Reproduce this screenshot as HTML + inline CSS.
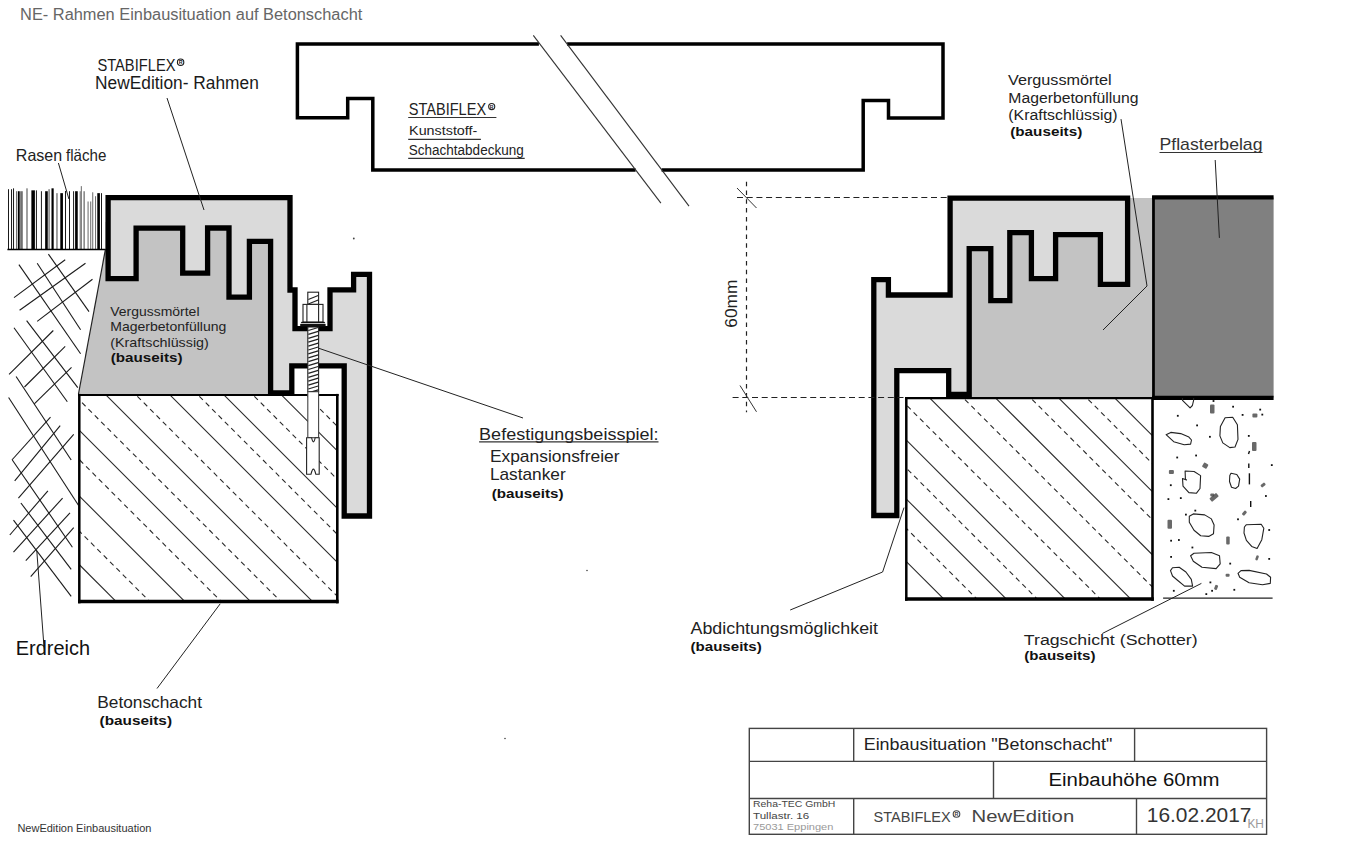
<!DOCTYPE html>
<html><head><meta charset="utf-8"><title>NE-Rahmen Einbausituation</title>
<style>html,body{margin:0;padding:0;background:#fff;} svg{display:block;}</style></head>
<body><svg width="1358" height="856" viewBox="0 0 1358 856">
<rect width="1358" height="856" fill="#fff"/>
<g stroke="#1a1a1a" stroke-width="1.1" fill="none">
<line x1="18.9" y1="264.6" x2="80.6" y2="353.7"/>
<line x1="37.2" y1="263.2" x2="80.6" y2="329.8"/>
<line x1="48.4" y1="254.1" x2="89" y2="311.6"/>
<line x1="14" y1="327.7" x2="67.3" y2="401.7"/>
<line x1="26.6" y1="320.7" x2="77.8" y2="387.7"/>
<line x1="16.1" y1="376.5" x2="71.2" y2="460"/>
<line x1="8.6" y1="397.5" x2="78.6" y2="505.5"/>
<line x1="12.3" y1="460" x2="72.4" y2="547.2"/>
<line x1="20.9" y1="503" x2="71.2" y2="569.3"/>
<line x1="13.5" y1="520.2" x2="71.2" y2="596.3"/>
<line x1="14" y1="297.6" x2="65.2" y2="259.7"/>
<line x1="19.6" y1="310.2" x2="85.5" y2="263.2"/>
<line x1="37.2" y1="321.4" x2="92.5" y2="279.3"/>
<line x1="9.1" y1="374.3" x2="53.3" y2="330.5"/>
<line x1="24.5" y1="387" x2="65.2" y2="346.3"/>
<line x1="34.3" y1="403.8" x2="71.5" y2="367.3"/>
<line x1="11.9" y1="460" x2="50.5" y2="417.1"/>
<line x1="14.7" y1="480.9" x2="60.2" y2="425.7"/>
<line x1="18.4" y1="498.1" x2="73.7" y2="434.3"/>
<line x1="9.8" y1="535" x2="47.9" y2="490.8"/>
<line x1="13.5" y1="552.1" x2="62.6" y2="498.1"/>
<line x1="25.8" y1="560.7" x2="70" y2="512.8"/>
<line x1="30.7" y1="576.7" x2="73.7" y2="527.6"/>
</g>
<g>
<rect x="8.05" y="189.20" width="0.90" height="60.50" fill="#000"/>
<rect x="11.12" y="189.20" width="0.90" height="60.50" fill="#000"/>
<rect x="13.13" y="188.33" width="0.90" height="61.37" fill="#000"/>
<rect x="15.99" y="191.22" width="1.31" height="58.48" fill="#707070"/>
<rect x="17.97" y="191.22" width="1.75" height="58.48" fill="#000"/>
<rect x="20.16" y="191.22" width="2.63" height="58.48" fill="#707070"/>
<rect x="26.34" y="188.33" width="1.31" height="61.37" fill="#707070"/>
<rect x="31.38" y="190.34" width="3.51" height="59.36" fill="#000"/>
<rect x="35.92" y="190.34" width="0.90" height="59.36" fill="#000"/>
<rect x="40.92" y="191.22" width="0.90" height="58.48" fill="#000"/>
<rect x="45.14" y="191.22" width="2.63" height="58.48" fill="#000"/>
<rect x="48.42" y="189.20" width="1.31" height="60.50" fill="#707070"/>
<rect x="51.49" y="188.33" width="2.19" height="61.37" fill="#000"/>
<rect x="56.31" y="193.15" width="1.31" height="56.55" fill="#707070"/>
<rect x="60.30" y="193.15" width="2.63" height="56.55" fill="#000"/>
<rect x="65.11" y="190.96" width="0.90" height="58.74" fill="#000"/>
<rect x="69.05" y="191.22" width="0.90" height="58.48" fill="#000"/>
<rect x="73.17" y="191.22" width="0.90" height="58.48" fill="#000"/>
<rect x="75.11" y="191.22" width="2.63" height="58.48" fill="#000"/>
<rect x="79.67" y="191.22" width="1.05" height="58.48" fill="#707070"/>
<rect x="80.81" y="186.13" width="1.05" height="63.57" fill="#707070"/>
<rect x="83.48" y="191.22" width="1.31" height="58.48" fill="#707070"/>
<rect x="87.55" y="201.47" width="1.05" height="48.23" fill="#707070"/>
<rect x="90.18" y="201.47" width="1.05" height="48.23" fill="#707070"/>
<rect x="92.20" y="192.27" width="1.05" height="57.43" fill="#707070"/>
<rect x="95.00" y="196.21" width="1.05" height="53.49" fill="#707070"/>
<rect x="97.28" y="193.15" width="2.63" height="56.55" fill="#000"/>
<rect x="101.04" y="193.15" width="0.90" height="56.55" fill="#000"/>
</g>
<line x1="7.4" y1="249.5" x2="106" y2="249.5" stroke="#000" stroke-width="1.6"/>
<polygon points="105.5,249 105.5,222 272,222 272,395 78.5,395" fill="#c3c3c3"/>
<line x1="105.5" y1="249" x2="78.5" y2="394" stroke="#222" stroke-width="1.2"/>
<clipPath id="clip79"><rect x="79.3" y="395" width="258.0" height="206.60000000000002"/></clipPath>
<rect x="79.3" y="395" width="258.0" height="206.60000000000002" fill="#fff"/>
<g clip-path="url(#clip79)" stroke="#2a2a2a" fill="none">
<line x1="-95.39999999999998" y1="390" x2="309.6" y2="795" stroke-width="1.1"/>
<line x1="-26.69999999999999" y1="390" x2="378.3" y2="795" stroke-width="1.1"/>
<line x1="39" y1="390" x2="444" y2="795" stroke-width="1.1"/>
<line x1="101" y1="390" x2="506" y2="795" stroke-width="1.1"/>
<line x1="165" y1="390" x2="570" y2="795" stroke-width="1.1"/>
<line x1="219" y1="390" x2="624" y2="795" stroke-width="1.1"/>
<line x1="276.5" y1="390" x2="681.5" y2="795" stroke-width="1.1"/>
<line x1="-61.80000000000001" y1="390" x2="343.2" y2="795" stroke-width="1.1" stroke-dasharray="5 4"/>
<line x1="9.699999999999989" y1="390" x2="414.7" y2="795" stroke-width="1.1" stroke-dasharray="5 4"/>
<line x1="69.30000000000001" y1="390" x2="474.3" y2="795" stroke-width="1.1" stroke-dasharray="5 4"/>
<line x1="131" y1="390" x2="536" y2="795" stroke-width="1.1" stroke-dasharray="5 4"/>
<line x1="193" y1="390" x2="598" y2="795" stroke-width="1.1" stroke-dasharray="5 4"/>
<line x1="248" y1="390" x2="653" y2="795" stroke-width="1.1" stroke-dasharray="5 4"/>
<line x1="301" y1="390" x2="706" y2="795" stroke-width="1.1" stroke-dasharray="5 4"/>
</g>
<g stroke="#000" fill="none"><line x1="79.3" y1="393.9" x2="79.3" y2="603.35" stroke-width="2.5"/><line x1="337.3" y1="393.9" x2="337.3" y2="603.35" stroke-width="2.6"/><line x1="78.05" y1="395" x2="338.6" y2="395" stroke-width="2.2"/><line x1="78.05" y1="601.6" x2="338.6" y2="601.6" stroke-width="3.5"/></g>
<polygon points="108.1,197.7 290,197.7 290,290 295,290 295,328.7 330,328.7 330,289.9 353.6,289.9 353.6,274.3 369.5,274.3 369.5,516 344.2,516 344.2,365.9 291.8,365.9 291.8,392.8 270.6,392.8 270.6,241.4 249.4,241.4 249.4,297.2 229,297.2 229,228 207.6,228 207.6,273.2 182.7,273.2 182.7,228.2 136.1,228.2 136.1,278.7 108.1,278.7" fill="#dadada" stroke="#000" stroke-width="5.3" stroke-linejoin="miter"/>
<g stroke="#222" stroke-width="1.1">
<rect x="307.8" y="292.2" width="10.8" height="12.2" fill="#fff"/>
<rect x="307.8" y="327" width="10.8" height="64.7" fill="#fff"/>
<rect x="307.8" y="391.7" width="10.8" height="46" fill="#fff" stroke="#444"/>
<path d="M306.6,437.7 L311.6,437.7 Q313.4,446 315.2,437.7 L319.2,437.7 L319.2,474.2 L315.8,474.2 Q313.4,464 311,474.2 L306.6,474.2 Z" fill="#fff"/>
<rect x="303" y="304.4" width="20" height="17.7" fill="#fff"/>
<line x1="306.9" y1="304.4" x2="306.9" y2="322"/><line x1="318.6" y1="304.4" x2="318.6" y2="322"/>
</g>
<path d="M301.6,321.8 L324.4,321.8 L325.4,323.3 L300.6,323.3 Z M300.2,324.1 L325.6,324.1 L325.6,326.6 L300.2,326.6 Z" fill="#111"/>

<g stroke="#222" stroke-width="1.3" clip-path="url(#rodclip)"><line x1="308.3" y1="330.5" x2="318.2" y2="327.5"/><line x1="308.3" y1="334.4" x2="318.2" y2="331.4"/><line x1="308.3" y1="338.3" x2="318.2" y2="335.3"/><line x1="308.3" y1="342.2" x2="318.2" y2="339.2"/><line x1="308.3" y1="346.1" x2="318.2" y2="343.1"/><line x1="308.3" y1="350.0" x2="318.2" y2="347.0"/><line x1="308.3" y1="353.9" x2="318.2" y2="350.9"/><line x1="308.3" y1="357.8" x2="318.2" y2="354.8"/><line x1="308.3" y1="361.7" x2="318.2" y2="358.7"/><line x1="308.3" y1="365.6" x2="318.2" y2="362.6"/><line x1="308.3" y1="369.5" x2="318.2" y2="366.5"/><line x1="308.3" y1="373.4" x2="318.2" y2="370.4"/><line x1="308.3" y1="377.3" x2="318.2" y2="374.3"/><line x1="308.3" y1="381.2" x2="318.2" y2="378.2"/><line x1="308.3" y1="385.1" x2="318.2" y2="382.1"/><line x1="308.3" y1="389.0" x2="318.2" y2="386.0"/><line x1="308.3" y1="392.9" x2="318.2" y2="389.9"/><line x1="308.3" y1="299.5" x2="318.2" y2="295.5"/><line x1="308.3" y1="304" x2="318.2" y2="300"/></g>
<clipPath id="rodclip"><rect x="307.8" y="292.2" width="10.8" height="12.2"/><rect x="307.8" y="327" width="10.8" height="64.7"/></clipPath>
<g stroke="#000" stroke-width="3.5" fill="none" stroke-linecap="butt"><polyline points="538.9,43.9 297.4,43.9 297.4,117.8 347.7,117.8 347.7,98.4 372.8,98.4 372.8,170.1 635.6,170.1"/><polyline points="567.1,43.9 943,43.9 943,118 888.5,118 888.5,100.4 863.2,100.4 863.2,170.1 661.6,170.1"/></g>
<g stroke="#333" stroke-width="1.1"><line x1="533.3" y1="35.3" x2="660.9" y2="203.2"/><line x1="560.6" y1="35.3" x2="689" y2="206.2"/></g>
<clipPath id="clip906"><rect x="906.3" y="398.2" width="246.20000000000005" height="200.8"/></clipPath>
<rect x="906.3" y="398.2" width="246.20000000000005" height="200.8" fill="#fff"/>
<g clip-path="url(#clip906)" stroke="#2a2a2a" fill="none">
<line x1="738.0" y1="393.2" x2="1143.0" y2="798.2" stroke-width="1.1"/>
<line x1="800.5" y1="393.2" x2="1205.5" y2="798.2" stroke-width="1.1"/>
<line x1="859.4" y1="393.2" x2="1264.4" y2="798.2" stroke-width="1.1"/>
<line x1="924.9000000000001" y1="393.2" x2="1329.9" y2="798.2" stroke-width="1.1"/>
<line x1="990.8" y1="393.2" x2="1395.8" y2="798.2" stroke-width="1.1"/>
<line x1="1053.9" y1="393.2" x2="1458.9" y2="798.2" stroke-width="1.1"/>
<line x1="1110.0" y1="393.2" x2="1515.0" y2="798.2" stroke-width="1.1"/>
<line x1="675.2" y1="393.2" x2="1080.2" y2="798.2" stroke-width="1.1"/>
<line x1="613.2" y1="393.2" x2="1018.2" y2="798.2" stroke-width="1.1"/>
<line x1="771.0999999999999" y1="393.2" x2="1176.1" y2="798.2" stroke-width="1.1" stroke-dasharray="5 4"/>
<line x1="831.4" y1="393.2" x2="1236.4" y2="798.2" stroke-width="1.1" stroke-dasharray="5 4"/>
<line x1="894.5" y1="393.2" x2="1299.5" y2="798.2" stroke-width="1.1" stroke-dasharray="5 4"/>
<line x1="958.5999999999999" y1="393.2" x2="1363.6" y2="798.2" stroke-width="1.1" stroke-dasharray="5 4"/>
<line x1="1025.9" y1="393.2" x2="1430.9" y2="798.2" stroke-width="1.1" stroke-dasharray="5 4"/>
<line x1="1082.0" y1="393.2" x2="1487.0" y2="798.2" stroke-width="1.1" stroke-dasharray="5 4"/>
</g>
<g stroke="#000" fill="none"><line x1="906.3" y1="397.09999999999997" x2="906.3" y2="600.75" stroke-width="2.5"/><line x1="1152.5" y1="397.09999999999997" x2="1152.5" y2="600.75" stroke-width="2.6"/><line x1="905.05" y1="398.2" x2="1153.8" y2="398.2" stroke-width="2.2"/><line x1="905.05" y1="599" x2="1153.8" y2="599" stroke-width="3.5"/></g>
<rect x="960" y="198" width="195" height="199" fill="#c3c3c3"/>
<rect x="1155" y="197.5" width="118.6" height="200" fill="#808080"/>
<line x1="1153.5" y1="196" x2="1153.5" y2="399.6" stroke="#000" stroke-width="2.8"/><line x1="1152.1" y1="197.4" x2="1273.6" y2="197.4" stroke="#000" stroke-width="4.2"/>
<line x1="1152" y1="397.8" x2="1273.6" y2="397.8" stroke="#000" stroke-width="4.2"/>
<polygon points="950.1,198.2 1127.6,198.2 1127.6,284.3 1100.4,284.3 1100.4,234.7 1055.6,234.7 1055.6,278.7 1031.4,278.7 1031.4,232.7 1009.8,232.7 1009.8,300.6 990.8,300.6 990.8,248.7 969.2,248.7 969.2,394.5 948.7,394.5 948.7,370.7 896.8,370.7 896.8,515.5 873.8,515.5 873.8,279.6 888.4,279.6 888.4,295 950.1,295" fill="#dadada" stroke="#000" stroke-width="5.3"/>
<g stroke="#222" stroke-width="1.2" fill="none">
<line x1="737" y1="197.5" x2="948" y2="197.5" stroke-dasharray="6 3.7"/>
<line x1="732.6" y1="397.5" x2="906" y2="397.5" stroke-dasharray="6 3.7"/>
<line x1="746.5" y1="181.7" x2="746.5" y2="412.3" stroke-dasharray="4.5 4.3"/>
</g>
<g stroke="#333" stroke-width="1"><line x1="737" y1="188" x2="756.5" y2="208"/><line x1="740" y1="385.5" x2="756.5" y2="411.8"/></g>
<line x1="1163.1" y1="598.2" x2="1272.6" y2="598.2" stroke="#222" stroke-width="1.2"/>
<g stroke="#222" stroke-width="1.1" fill="none" stroke-linejoin="round">
<polyline points="1182.5,398 1182.5,400.3 1190.1,407.9 1192.4,405.5 1193.6,400.3 1193.6,398"/>
<polygon points="1166.1,434.7 1170.8,432.4 1180.7,433.6 1188.9,437.1 1191.5,440 1190.6,444.1 1184.2,444.7 1173.7,441.7"/>
<polygon points="1225.1,417.8 1232.7,417.2 1237.4,424.8 1238,439.4 1235,447 1229.8,447.6 1222.8,442.9 1219.9,435.9 1220.4,426.5"/>
<polygon points="1185.4,479.1 1185.1,471 1194.1,471.5 1200.6,475.6 1200,488.5 1196.5,493.2 1188.9,492.6 1183,486.1 1182.5,478.5 1186.5,480"/>
<polygon points="1231,473.3 1236.8,474.5 1239.7,479.1 1238.5,486.1 1235.6,488.5 1231.5,487.3 1229.5,481.5 1229.8,475.6"/>
<polygon points="1193.3,513.9 1204.7,514.9 1211.4,518.9 1214.1,524.9 1213.5,533.7 1208.7,536.4 1200.7,535.7 1194,530.3 1189.3,522.2 1189.3,516.2"/>
<polygon points="1246.4,524.7 1261.2,524.3 1263.8,528.3 1261.8,539.7 1257.1,548.5 1251.7,546.4 1246.4,540.4 1244,533 1244.4,527"/>
<polygon points="1194,553.2 1211.4,552.5 1219.5,555.8 1220.2,563.9 1216.1,568.6 1202,567.3 1193.3,561.2 1190.6,555.8"/>
<polygon points="1172.5,567.7 1179.2,567.3 1185.9,572 1191.3,579.4 1192.6,586.1 1184.6,586.1 1177.2,580 1172.5,576 1170.5,570.6"/>
<polygon points="1241,570.6 1249.1,570.4 1266.5,574 1270.6,577.3 1270.3,583.4 1262.5,584.7 1249.1,582.7 1239.7,577.3 1238,573.3"/>
</g>
<g fill="#111">
<rect x="1176.9" y="414.9" width="1.8" height="1.8"/>
<rect x="1232.2" y="405.8" width="1.8" height="1.8"/>
<rect x="1241.7" y="414.0" width="1.8" height="1.8"/>
<rect x="1259.3" y="408.7" width="1.8" height="1.8"/>
<rect x="1261.4" y="413.7" width="1.8" height="1.8"/>
<rect x="1196.2" y="424.5" width="1.8" height="1.8"/>
<rect x="1209.0" y="435.9" width="1.8" height="1.8"/>
<rect x="1247.9" y="435.0" width="1.8" height="1.8"/>
<rect x="1176.3" y="456.6" width="1.8" height="1.8"/>
<rect x="1195.2" y="454.6" width="1.8" height="1.8"/>
<rect x="1270.9" y="464.2" width="1.8" height="1.8"/>
<rect x="1169.9" y="484.3" width="1.8" height="1.8"/>
<rect x="1167.5" y="498.2" width="1.8" height="1.8"/>
<rect x="1179.9" y="497.2" width="1.8" height="1.8"/>
<rect x="1265.0" y="495.1" width="1.8" height="1.8"/>
<rect x="1194.4" y="509.7" width="1.8" height="1.8"/>
<rect x="1185.0" y="513.7" width="1.8" height="1.8"/>
<rect x="1237.1" y="518.4" width="1.8" height="1.8"/>
<rect x="1268.3" y="529.1" width="1.8" height="1.8"/>
<rect x="1170.2" y="539.8" width="1.8" height="1.8"/>
<rect x="1178.0" y="539.1" width="1.8" height="1.8"/>
<rect x="1191.5" y="546.6" width="1.8" height="1.8"/>
<rect x="1170.2" y="556.0" width="1.8" height="1.8"/>
<rect x="1229.3" y="562.7" width="1.8" height="1.8"/>
<rect x="1268.3" y="558.0" width="1.8" height="1.8"/>
<rect x="1172.9" y="589.9" width="1.8" height="1.8"/>
<rect x="1209.5" y="581.5" width="1.8" height="1.8"/>
<rect x="1211.2" y="589.9" width="1.8" height="1.8"/>
<rect x="1233.4" y="588.9" width="1.8" height="1.8"/>
<rect x="1205.4" y="593.2" width="1.8" height="1.8"/>
<rect x="1212.6" y="400.1" width="1.8" height="1.8"/>
</g>
<g fill="#444">
<rect x="1210.0" y="404.5" width="4.5" height="9" rx="1" transform="rotate(0 1212.3 409)" opacity="0.8"/>
<rect x="1252.4" y="413.4" width="5" height="4" rx="1" transform="rotate(0 1254.9 415.4)" opacity="0.8"/>
<rect x="1252.0" y="441.9" width="4.5" height="9" rx="1" transform="rotate(0 1254.3 446.4)" opacity="0.8"/>
<rect x="1202.7" y="463.2" width="5" height="5" rx="1" transform="rotate(30 1205.2 465.7)" opacity="0.8"/>
<rect x="1168.9" y="470.1" width="5" height="4" rx="1" transform="rotate(0 1171.4 472.1)" opacity="0.8"/>
<rect x="1260.6" y="483.5" width="5" height="3" rx="1" transform="rotate(-40 1263.1 485)" opacity="0.8"/>
<rect x="1210.3" y="493.5" width="4" height="3" rx="1" transform="rotate(0 1212.3 495)" opacity="0.8"/>
<rect x="1209.6" y="495.1" width="9" height="4.5" rx="1" transform="rotate(-40 1214.1 497.4)" opacity="0.8"/>
<rect x="1241.9" y="511.6" width="5" height="3" rx="1" transform="rotate(-50 1244.4 513.1)" opacity="0.8"/>
<rect x="1167.5" y="519.8" width="4.5" height="9" rx="1" transform="rotate(0 1169.8 524.3)" opacity="0.8"/>
<rect x="1226.2" y="536.4" width="3.5" height="8" rx="1" transform="rotate(0 1228 540.4)" opacity="0.8"/>
<rect x="1255.8" y="555.4" width="2.5" height="5" rx="1" transform="rotate(20 1257.1 557.9)" opacity="0.8"/>
<rect x="1225.6" y="573.8" width="4" height="3" rx="1" transform="rotate(0 1227.6 575.3)" opacity="0.8"/>
<rect x="1214.6" y="584.9" width="3" height="5" rx="1" transform="rotate(20 1216.1 587.4)" opacity="0.8"/>
</g>
<g stroke="#111" stroke-width="1.4"><line x1="1249.5" y1="451" x2="1248.5" y2="454"/><line x1="1248.8" y1="463.4" x2="1248.8" y2="468"/><line x1="1249.4" y1="473.3" x2="1249.4" y2="484.4"/><line x1="1250.7" y1="501" x2="1250.7" y2="507"/></g>
<g fill="#444"><circle cx="353.8" cy="238.5" r="0.9"/><circle cx="587" cy="570.5" r="0.8"/><circle cx="505" cy="738.5" r="0.8"/></g>
<g stroke="#222" stroke-width="1" fill="none">
<polyline points="58.4,163 68.9,199"/>
<polyline points="167,98 204,210"/>
<polyline points="1121,119.1 1147,286 1103,330"/>
<polyline points="1215.2,160 1219.4,237.9"/>
<polyline points="318.9,348.3 523,418"/>
<polyline points="904,507.6 882.6,572 790.2,610"/>
<polyline points="1201.4,583.4 1102.3,633.5"/>
<polyline points="220.2,603.8 157,688.5"/>
<polyline points="44.3,651 36.8,550.9"/>
</g>
<g stroke="#444" stroke-width="1.4" fill="none">
<rect x="749.3" y="728.4" width="517.3" height="105.9"/>
<line x1="749.3" y1="761.4" x2="1266.6" y2="761.4"/>
<line x1="749.3" y1="798.5" x2="1266.6" y2="798.5"/>
<line x1="853.7" y1="728.4" x2="853.7" y2="761.4"/>
<line x1="1134.6" y1="728.4" x2="1134.6" y2="761.4"/>
<line x1="993.5" y1="761.4" x2="993.5" y2="798.5"/>
<line x1="853.7" y1="798.5" x2="853.7" y2="834.3"/>
<line x1="1136.5" y1="798.5" x2="1136.5" y2="834.3"/>
</g>
<g font-family="Liberation Sans, sans-serif">
<text x="20.1" y="20.1" font-size="17.08" font-weight="normal" fill="#666" textLength="342.2" lengthAdjust="spacingAndGlyphs" >NE- Rahmen Einbausituation auf Betonschacht</text>
<text x="97.4" y="70.5" font-size="16.28" font-weight="normal" fill="#1a1a1a" textLength="78.1" lengthAdjust="spacingAndGlyphs" >STABIFLEX</text>
<text x="95.1" y="89" font-size="17.44" font-weight="normal" fill="#1a1a1a" textLength="163.7" lengthAdjust="spacingAndGlyphs" >NewEdition- Rahmen</text>
<text x="15.8" y="160.6" font-size="16.72" font-weight="normal" fill="#222" textLength="46.4" lengthAdjust="spacingAndGlyphs" >Rasen</text>
<text x="66" y="160.6" font-size="16.72" font-weight="normal" fill="#222" textLength="40.3" lengthAdjust="spacingAndGlyphs" >fläche</text>
<text x="110.3" y="315.6" font-size="12.79" font-weight="normal" fill="#222" textLength="89.2" lengthAdjust="spacingAndGlyphs" >Vergussmörtel</text>
<text x="110.3" y="331.1" font-size="12.79" font-weight="normal" fill="#222" textLength="116" lengthAdjust="spacingAndGlyphs" >Magerbetonfüllung</text>
<text x="110.3" y="346.5" font-size="12.79" font-weight="normal" fill="#222" textLength="98.5" lengthAdjust="spacingAndGlyphs" >(Kraftschlüssig)</text>
<text x="408.8" y="115.1" font-size="17.30" font-weight="normal" fill="#222" textLength="77.3" lengthAdjust="spacingAndGlyphs" >STABIFLEX</text>
<text x="409.1" y="135.2" font-size="13.52" font-weight="normal" fill="#222" textLength="68.2" lengthAdjust="spacingAndGlyphs" >Kunststoff-</text>
<text x="408.8" y="155.3" font-size="14.24" font-weight="normal" fill="#222" textLength="114.9" lengthAdjust="spacingAndGlyphs" >Schachtabdeckung</text>
<text x="1008" y="84.9" font-size="14.39" font-weight="normal" fill="#222" textLength="103.6" lengthAdjust="spacingAndGlyphs" >Vergussmörtel</text>
<text x="1008.3" y="102.6" font-size="14.39" font-weight="normal" fill="#222" textLength="130.3" lengthAdjust="spacingAndGlyphs" >Magerbetonfüllung</text>
<text x="1008.3" y="119.7" font-size="14.39" font-weight="normal" fill="#222" textLength="109.3" lengthAdjust="spacingAndGlyphs" >(Kraftschlüssig)</text>
<text x="1159.5" y="150.2" font-size="17.01" font-weight="normal" fill="#333" textLength="103" lengthAdjust="spacingAndGlyphs" >Pflasterbelag</text>
<text x="479.1" y="439.9" font-size="16.42" font-weight="normal" fill="#222" textLength="179.4" lengthAdjust="spacingAndGlyphs" >Befestigungsbeisspiel:</text>
<text x="489.9" y="462" font-size="15.99" font-weight="normal" fill="#222" textLength="129.6" lengthAdjust="spacingAndGlyphs" >Expansionsfreier</text>
<text x="489.9" y="479.6" font-size="15.99" font-weight="normal" fill="#222" textLength="75.8" lengthAdjust="spacingAndGlyphs" >Lastanker</text>
<text x="15.7" y="654.6" font-size="19.48" font-weight="normal" fill="#111" textLength="74.3" lengthAdjust="spacingAndGlyphs" >Erdreich</text>
<text x="97.3" y="708.2" font-size="16.72" font-weight="normal" fill="#222" textLength="104.7" lengthAdjust="spacingAndGlyphs" >Betonschacht</text>
<text x="690.5" y="634.3" font-size="16.42" font-weight="normal" fill="#222" textLength="187.5" lengthAdjust="spacingAndGlyphs" >Abdichtungsmöglichkeit</text>
<text x="1023.8" y="644.8" font-size="15.26" font-weight="normal" fill="#222" textLength="173.8" lengthAdjust="spacingAndGlyphs" >Tragschicht (Schotter)</text>
<text x="17.4" y="831.7" font-size="11.19" font-weight="normal" fill="#333" textLength="134" lengthAdjust="spacingAndGlyphs" >NewEdition Einbausituation</text>
<text x="863.7" y="749.8" font-size="16.72" font-weight="normal" fill="#222" textLength="248.7" lengthAdjust="spacingAndGlyphs" >Einbausituation "Betonschacht"</text>
<text x="1048.5" y="786.4" font-size="19.19" font-weight="normal" fill="#111" textLength="171.1" lengthAdjust="spacingAndGlyphs" >Einbauhöhe 60mm</text>
<text x="1146.8" y="822" font-size="19.48" font-weight="normal" fill="#333" textLength="104.7" lengthAdjust="spacingAndGlyphs" >16.02.2017</text>
<text x="1247.4" y="827.6" font-size="12.65" font-weight="normal" fill="#999" textLength="16.6" lengthAdjust="spacingAndGlyphs" >KH</text>
<text x="873.6" y="822.4" font-size="15.26" font-weight="normal" fill="#444" textLength="77.1" lengthAdjust="spacingAndGlyphs" >STABIFLEX</text>
<text x="971.6" y="822.4" font-size="16.72" font-weight="normal" fill="#444" textLength="102.6" lengthAdjust="spacingAndGlyphs" >NewEdition</text>
<text x="753" y="806.9" font-size="9.30" font-weight="normal" fill="#444" textLength="82.4" lengthAdjust="spacingAndGlyphs" >Reha-TEC GmbH</text>
<text x="753" y="818.8" font-size="9.30" font-weight="normal" fill="#444" textLength="56.2" lengthAdjust="spacingAndGlyphs" >Tullastr. 16</text>
<text x="753" y="830.3" font-size="9.30" font-weight="normal" fill="#999" textLength="80.4" lengthAdjust="spacingAndGlyphs" >75031 Eppingen</text>
<text x="110.8" y="362" font-size="12.79" font-weight="bold" fill="#111" textLength="71.7" lengthAdjust="spacingAndGlyphs" >(bauseits)</text>
<text x="1010.2" y="135.7" font-size="12.79" font-weight="bold" fill="#111" textLength="72.1" lengthAdjust="spacingAndGlyphs" >(bauseits)</text>
<text x="491.8" y="498" font-size="12.79" font-weight="bold" fill="#111" textLength="71.7" lengthAdjust="spacingAndGlyphs" >(bauseits)</text>
<text x="99.6" y="724.5" font-size="12.79" font-weight="bold" fill="#111" textLength="72.4" lengthAdjust="spacingAndGlyphs" >(bauseits)</text>
<text x="690.5" y="650.5" font-size="12.79" font-weight="bold" fill="#111" textLength="71.3" lengthAdjust="spacingAndGlyphs" >(bauseits)</text>
<text x="1024.3" y="660.2" font-size="12.79" font-weight="bold" fill="#111" textLength="71.2" lengthAdjust="spacingAndGlyphs" >(bauseits)</text>
<circle cx="180.6" cy="62.2" r="3.20" fill="none" stroke="#1a1a1a" stroke-width="1.1"/>
<text x="180.6" y="64.20" font-size="5.33" font-weight="bold" fill="#1a1a1a" text-anchor="middle">R</text>
<circle cx="491.7" cy="106.6" r="3.05" fill="none" stroke="#222" stroke-width="1.1"/>
<text x="491.7" y="108.52" font-size="5.11" font-weight="bold" fill="#222" text-anchor="middle">R</text>
<circle cx="956.5" cy="814" r="3.30" fill="none" stroke="#444" stroke-width="1.1"/>
<text x="956.5" y="816.05" font-size="5.47" font-weight="bold" fill="#444" text-anchor="middle">R</text>
<text x="0" y="0" font-size="17.01" fill="#222" textLength="48" lengthAdjust="spacingAndGlyphs" transform="translate(737 327.7) rotate(-90)">60mm</text>
</g>
<g stroke="#333" stroke-width="1.2">
<line x1="408.2" y1="117.5" x2="496.4" y2="117.5"/>
<line x1="408.2" y1="139.3" x2="480.9" y2="139.3"/>
<line x1="408.2" y1="158.3" x2="524.7" y2="158.3"/>
<line x1="479.1" y1="441.8" x2="658.5" y2="441.8"/>
<line x1="1159.5" y1="152.5" x2="1262.5" y2="152.5"/>
</g>
</svg></body></html>
